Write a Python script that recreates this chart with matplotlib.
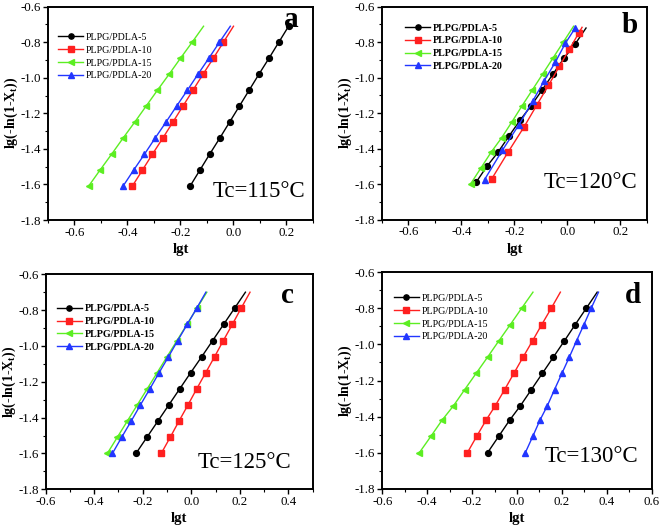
import matplotlib
matplotlib.use("Agg")
import matplotlib.pyplot as plt
from matplotlib.ticker import MultipleLocator

plt.rcParams['font.family'] = ['Liberation Serif', 'DejaVu Serif']
plt.rcParams['mathtext.fontset'] = 'custom'
plt.rcParams['mathtext.rm'] = 'Liberation Serif'
plt.rcParams['mathtext.bf'] = 'Liberation Serif:bold'

labels = ["PLPG/PDLA-5", "PLPG/PDLA-10", "PLPG/PDLA-15", "PLPG/PDLA-20"]
colors = ["#000000", "#FF2020", "#5CEE22", "#2236FF"]
markers = ["o", "s", "<", "^"]

# ---- panel a (Tc=115) ----
a_y = [-1.61, -1.52, -1.43, -1.34, -1.25, -1.16, -1.07, -0.98, -0.89, -0.80, -0.71]
a_x5 = [-0.164, -0.127, -0.090, -0.052, -0.015, 0.022, 0.059, 0.096, 0.134, 0.171, 0.208]
a_x10 = [-0.382, -0.344, -0.306, -0.267, -0.229, -0.191, -0.153, -0.115, -0.076, -0.038, 0.000]
a_x15 = [-0.547, -0.504, -0.460, -0.417, -0.373, -0.330, -0.287, -0.243, -0.200, -0.156, -0.113]
a_x20 = [-0.417, -0.377, -0.336, -0.296, -0.255, -0.215, -0.174, -0.134, -0.093, -0.053, -0.012]

# ---- panel b (Tc=120) ----
b_y5 = [-1.59, -1.50, -1.42, -1.33, -1.24, -1.16, -1.07, -0.98, -0.89, -0.81, -0.72]
b_x5 = [-0.345, -0.304, -0.262, -0.221, -0.179, -0.138, -0.096, -0.055, -0.013, 0.029, 0.070]
b_y10 = [-1.571, -1.417, -1.278, -1.155, -1.044, -0.937, -0.840, -0.750, -0.716]
b_x10 = [-0.286, -0.223, -0.164, -0.116, -0.072, -0.031, 0.007, 0.042, 0.055]
b_y15 = [-1.60, -1.51, -1.42, -1.34, -1.25, -1.16, -1.07, -0.98, -0.89, -0.80, -0.71]
b_x15 = [-0.366, -0.327, -0.288, -0.249, -0.210, -0.172, -0.133, -0.094, -0.055, -0.016, 0.023]
b_y20 = [-1.575, -1.410, -1.265, -1.134, -1.018, -0.913, -0.806, -0.718]
b_x20 = [-0.313, -0.246, -0.183, -0.132, -0.088, -0.046, -0.008, 0.030]

# ---- panel c (Tc=125) ----
c_y = [-1.60, -1.51, -1.42, -1.33, -1.24, -1.15, -1.06, -0.97, -0.88, -0.79, -0.70]
c_x5 = [-0.228, -0.183, -0.138, -0.093, -0.048, -0.003, 0.043, 0.088, 0.133, 0.178, 0.223]
c_x10 = [-0.124, -0.087, -0.051, -0.014, 0.022, 0.059, 0.096, 0.132, 0.169, 0.205, 0.242]
c_x15 = [-0.346, -0.305, -0.264, -0.223, -0.182, -0.141, -0.100, -0.059, -0.018, 0.023, 0.064]
c_x20 = [-0.325, -0.287, -0.248, -0.210, -0.171, -0.133, -0.094, -0.056, -0.017, 0.022, 0.060]

# ---- panel d (Tc=130) ----
d_y = [-1.60, -1.51, -1.42, -1.34, -1.25, -1.16, -1.07, -0.98, -0.89, -0.80, -0.71]
d_x5 = [-0.131, -0.082, -0.033, 0.015, 0.064, 0.113, 0.162, 0.211, 0.259, 0.308, 0.357]
d_x10 = [-0.221, -0.180, -0.138, -0.097, -0.055, -0.014, 0.027, 0.069, 0.110, 0.152, 0.193]
d_x15 = [-0.435, -0.384, -0.334, -0.283, -0.233, -0.182, -0.131, -0.081, -0.030, 0.020, 0.071]
d_x20 = [0.037, 0.070, 0.102, 0.135, 0.167, 0.200, 0.233, 0.265, 0.298, 0.330, 0.363]

panels = [
    dict(rect=[0.0726, 0.5849, 0.4009, 0.4025], xlim=(-0.7, 0.3), xt=[-0.6, -0.4, -0.2, 0.0, 0.2],
         series=[(a_x5, a_y, None), (a_x10, a_y, slice(0, 10)), (a_x15, a_y, slice(0, 10)), (a_x20, a_y, slice(0, 10))],
         letter="a", lpos=(0.92, 0.905), tc="Tc=115\u00b0C", tpos=(0.97, 0.108),
         leg=(0.038, 0.877), bold=False),
    dict(rect=[0.5779, 0.5858, 0.4009, 0.4015], xlim=(-0.7, 0.3), xt=[-0.6, -0.4, -0.2, 0.0, 0.2],
         series=[(b_x5, b_y5, slice(0, 10)), (b_x10, b_y10, slice(0, 8)), (b_x15, b_y15, slice(0, 10)), (b_x20, b_y20, None)],
         letter="b", lpos=(0.936, 0.878), tc="Tc=120\u00b0C", tpos=(0.962, 0.148),
         leg=(0.087, 0.921), bold=True),
    dict(rect=[0.0691, 0.0768, 0.4039, 0.4057], xlim=(-0.6, 0.5), xt=[-0.6, -0.4, -0.2, 0.0, 0.2, 0.4],
         series=[(c_x5, c_y, slice(0, 10)), (c_x10, c_y, slice(0, 10)), (c_x15, c_y, slice(0, 10)), (c_x20, c_y, slice(0, 10))],
         letter="c", lpos=(0.907, 0.865), tc="Tc=125\u00b0C", tpos=(0.918, 0.098),
         leg=(0.042, 0.86), bold=True),
    dict(rect=[0.5784, 0.0779, 0.4076, 0.4083], xlim=(-0.6, 0.6), xt=[-0.6, -0.4, -0.2, 0.0, 0.2, 0.4, 0.6],
         series=[(d_x5, d_y, slice(0, 10)), (d_x10, d_y, slice(0, 10)), (d_x15, d_y, slice(0, 10)), (d_x20, d_y, slice(0, 10))],
         letter="d", lpos=(0.93, 0.857), tc="Tc=130\u00b0C", tpos=(0.949, 0.125),
         leg=(0.043, 0.90), bold=False),
]

fig = plt.figure(figsize=(6.61, 5.30), dpi=100)

for p in panels:
    ax = fig.add_axes(p["rect"])
    for i, (xs, ys, me) in enumerate(p["series"]):
        ax.plot(xs, ys, color=colors[i], marker=markers[i], markersize=4.2, linewidth=1.0,
                markevery=me, label=labels[i])
    ax.set_xlim(*p["xlim"])
    ax.set_ylim(-1.8, -0.6)
    ax.set_xticks(p["xt"])
    ax.set_yticks([-1.8, -1.6, -1.4, -1.2, -1.0, -0.8, -0.6])
    ax.xaxis.set_minor_locator(MultipleLocator(0.1))
    ax.yaxis.set_minor_locator(MultipleLocator(0.1))
    ax.set_xticklabels(["%.1f" % v for v in p["xt"]])
    ax.set_yticklabels(["%.1f" % v for v in [-1.8, -1.6, -1.4, -1.2, -1.0, -0.8, -0.6]])
    ax.tick_params(which="major", direction="out", length=3.5, width=1.0, labelsize=9.3, pad=1.5)
    ax.tick_params(which="minor", direction="out", length=2, width=0.8)
    for s in ax.spines.values():
        s.set_linewidth(1.4)
    ax.set_xlabel("lgt", fontsize=10.5, fontweight="bold", labelpad=3)
    ax.set_ylabel(r"lg(-ln(1-X$_\mathbf{t}$))", fontsize=10, fontweight="bold", labelpad=0.5)
    ax.text(p["lpos"][0], p["lpos"][1], p["letter"], transform=ax.transAxes, fontsize=21,
            fontweight="bold", ha="center", va="baseline")
    ax.text(p["tpos"][0], p["tpos"][1], p["tc"], transform=ax.transAxes, fontsize=16.5,
            ha="right", va="baseline")
    leg = ax.legend(loc="upper left", bbox_to_anchor=p["leg"], frameon=False,
                    prop=dict(family="Liberation Serif", size=7.2, weight="bold" if p["bold"] else "normal"),
                    handlelength=2.5, handletextpad=0.3, labelspacing=0.38,
                    borderpad=0, borderaxespad=0, markerscale=0.9)

fig.savefig("out.png", dpi=100)
